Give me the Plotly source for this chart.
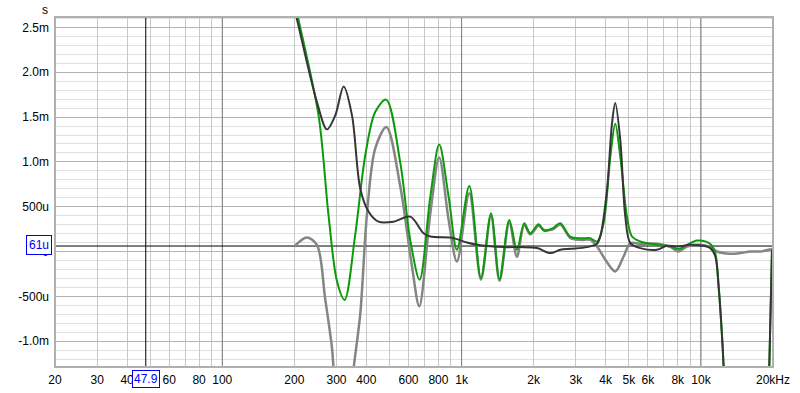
import math
import plotly.graph_objects as go

# ---- data (frequency in Hz, group delay in ms) ----
freq_green = [200, 208, 252.5, 277.8, 301.5, 324.4, 359.2, 395.8, 435.4, 484, 554.5, 610, 667.5,
              740, 806, 882.5, 956, 1076.5, 1204, 1326.5, 1440, 1581.5, 1703, 1826.5, 1935.5,
              2096.5, 2214, 2408, 2583, 2843, 3132, 3448, 3678, 3920, 4181, 4385, 4603, 4907,
              5151, 5578, 6141, 6763, 7445, 8064, 8741, 9624, 10428, 11047, 11481, 11853, 12246,
              12439, 12800, 14000, 18000, 19000, 19300, 19808]
gd_green = [2.81, 2.593, 1.519, 0.408, -0.333, -0.54, 0.186, 1.074, 1.556, 1.695, 0.986, 0.130, -0.314,
            0.611, 1.193, 0.611, 0.019, 0.730, -0.296, 0.427, -0.307, 0.352, 0.019, 0.316, 0.204,
            0.304, 0.230, 0.260, 0.316, 0.167, 0.147, 0.149, 0.111, 0.316, 1.056, 1.427, 1.056, 0.389,
            0.167, 0.111, 0.086, 0.074, 0.056, 0.027, 0.074, 0.122, 0.113, 0.074, -0.018, -0.389, -0.944,
            -1.292, -2.2, -5.0, -6.0, -3.0, -1.29, 0.02]

freq_dark = [200, 205.1, 248.6, 273.8, 296.6, 321.4, 348.3, 377, 408.8, 449.5, 519.8, 610, 693.5,
             740, 897, 956, 1052.5, 1196, 1497, 1759, 2065, 2346, 2583, 2843, 3341, 3678, 3796,
             4049, 4249, 4385, 4603, 4830, 5069, 5578, 6550, 7209, 7939, 9025, 9936, 10943, 11481,
             11853, 12246, 12439, 12800, 14000, 18000, 19000, 19300, 19808]
gd_dark = [2.71, 2.593, 1.667, 1.363, 1.519, 1.841, 1.519, 0.704, 0.444, 0.333, 0.333, 0.389, 0.204,
           0.167, 0.156, 0.138, 0.100, 0.069, 0.049, 0.049, 0.038, -0.018, 0.019, 0.030, 0.049, 0.086, 0.167,
           0.686, 1.427, 1.656, 1.241, 0.389, 0.093, 0.038, 0.019, 0.063, 0.056, 0.074, 0.069, 0.038, -0.056,
           -0.389, -0.944, -1.292, -2.2, -5.0, -6.0, -3.0, -1.29, 0.02]

freq_gray = [200, 225.5, 248.6, 268.8, 287.2, 291.7, 300, 315, 330, 343, 353.4, 377, 402, 435.4, 485,
             554.5, 620.3, 665.3, 740, 806, 882.5, 956, 1076.5, 1204, 1326.5, 1440, 1581.5, 1703,
             1826.5, 1935.5, 2096.5, 2214, 2408, 2583, 2843, 3132, 3448, 3678, 3985, 4385, 4750,
             5069, 5578, 6550, 7445, 8064, 8741, 9936, 10943, 11672, 13263, 14602, 16076, 17704, 19808]
gd_gray = [0.056, 0.156, 0.074, -0.518, -1.073, -1.314, -1.75, -2.6, -2.6, -1.7, -1.314, -0.703, 0.408,
           1.149, 1.39, 0.722, -0.167, -0.611, 0.427, 1.049, 0.352, -0.111, 0.649, -0.314, 0.397, -0.326,
           0.324, -0.059, 0.297, 0.191, 0.286, 0.241, 0.247, 0.302, 0.152, 0.130, 0.130, 0.056, -0.092,
           -0.222, -0.056, 0.093, 0.086, 0.086, 0.052, 0.0, 0.056, 0.074, 0.049, 0.0, -0.026, -0.018,
           0.0, 0.0, 0.027]

x_tickvals = [20, 30, 40, 50, 60, 70, 80, 90, 100, 200, 300, 400, 500, 600, 700, 800, 900,
              1000, 2000, 3000, 4000, 5000, 6000, 7000, 8000, 9000, 10000, 20000]
x_ticktext = ["20", "30", "40", "50", "60", "", "80", "", "100", "200", "300", "400", "", "600", "",
              "800", "", "1k", "2k", "3k", "4k", "5k", "6k", "", "8k", "", "10k", "20kHz"]
decades = [100, 1000, 10000]

y_tickvals = [-1.0, -0.5, 0, 0.5, 1.0, 1.5, 2.0, 2.5]
y_ticktext = ["-1.0m", "-500u", "0", "500u", "1.0m", "1.5m", "2.0m", "2.5m"]

x_range = [20, 20000]
y_range = [-1.289, 2.617]

cursor_freq = 47.9
cursor_val = 0.061
cursor_freq_label = "47.9"
cursor_val_label = "61u"

FONT = "Liberation Sans, Arial, sans-serif"

fig = go.Figure()

# decade grid lines (darker) drawn as data lines under the curves
dec_x, dec_y = [], []
for d in decades:
    dec_x += [d, d, None]
    dec_y += [y_range[0], y_range[1], None]
fig.add_trace(go.Scatter(x=dec_x, y=dec_y, mode="lines", line=dict(color="#7c7c7c", width=1),
                         hoverinfo="skip"))

# cursor lines
fig.add_trace(go.Scatter(x=[cursor_freq, cursor_freq, None, x_range[0], x_range[1]],
                         y=[y_range[0], y_range[1], None, cursor_val, cursor_val],
                         mode="lines", line=dict(color="#000000", width=1), hoverinfo="skip"))

fig.add_trace(go.Scatter(x=freq_gray, y=gd_gray, mode="lines",
                         line=dict(color="#858585", width=2.5, shape="spline", smoothing=0.9),
                         hoverinfo="skip"))
fig.add_trace(go.Scatter(x=freq_green, y=gd_green, mode="lines",
                         line=dict(color="#0c9a0c", width=2, shape="spline", smoothing=0.9),
                         hoverinfo="skip"))
fig.add_trace(go.Scatter(x=freq_dark, y=gd_dark, mode="lines",
                         line=dict(color="#363636", width=2, shape="spline", smoothing=0.9),
                         hoverinfo="skip"))

shapes = [dict(type="rect", xref="paper", yref="paper", x0=0, x1=1, y0=0, y1=1,
               line=dict(color="#b0b0b0", width=2), layer="above")]

annotations = [
    dict(text="s", xref="paper", yref="paper", x=0, y=1, xanchor="center", yanchor="bottom",
         xshift=-10, yshift=-2, showarrow=False, font=dict(family=FONT, size=12, color="#000")),
    dict(text=cursor_val_label, xref="paper", yref="y", x=0, y=cursor_val, xanchor="right",
         yanchor="middle", xshift=-3, yshift=1, showarrow=False, bgcolor="white",
         bordercolor="#0000ff", borderwidth=1, borderpad=2,
         font=dict(family=FONT, size=12, color="#0000ff")),
    dict(text=cursor_freq_label, xref="x", yref="paper", x=math.log10(cursor_freq), y=0,
         xanchor="center", yanchor="top", yshift=-3, showarrow=False, bgcolor="white",
         bordercolor="#0000ff", borderwidth=1, borderpad=1,
         font=dict(family=FONT, size=12, color="#0000ff")),
]

fig.update_layout(
    width=800, height=393,
    margin=dict(l=55, r=27, t=17, b=26),
    paper_bgcolor="white", plot_bgcolor="white",
    showlegend=False, hovermode=False,
    font=dict(family=FONT, size=12, color="#000"),
    shapes=shapes, annotations=annotations,
    xaxis=dict(type="log", range=[math.log10(x_range[0]), math.log10(x_range[1])],
               tickmode="array", tickvals=x_tickvals, ticktext=x_ticktext, automargin=False,
               showgrid=True, gridcolor="#c8c8c8", gridwidth=1, zeroline=False,
               showline=False, ticks="", ticklabelstandoff=4,
               tickfont=dict(family=FONT, size=12, color="#000")),
    yaxis=dict(range=y_range, tickmode="array", tickvals=y_tickvals, ticktext=y_ticktext,
               automargin=False,
               showgrid=True, gridcolor="#b4b4b4", gridwidth=1, zeroline=False, showline=False,
               ticks="", ticklabelstandoff=5,
               minor=dict(tickmode="linear", tick0=0, dtick=0.1, showgrid=True,
                          gridcolor="#e0e0e0", gridwidth=1),
               tickfont=dict(family=FONT, size=12, color="#000")),
)

fig.write_html("out.html", config={"displayModeBar": False},
               post_script="document.body.style.margin='0px';")
